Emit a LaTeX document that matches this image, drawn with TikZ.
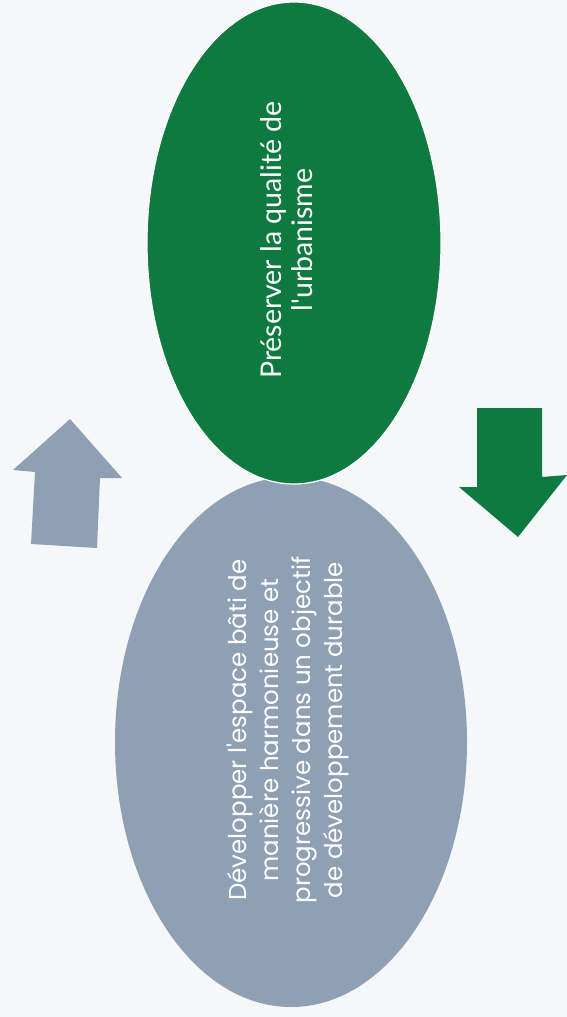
\documentclass[tikz,border=0pt]{standalone}
\usepackage{fontspec}
\usepackage{tikz}
\usetikzlibrary{shapes.geometric}
\newfontfamily\gillish{Lato}
\newfontfamily\futurish{Poppins}
\definecolor{pagebg}{RGB}{246,247,249}
\definecolor{blobgreen}{RGB}{14,122,64}
\definecolor{blobgrey}{RGB}{143,160,180}

\begin{document}
\begin{tikzpicture}[x=1pt,y=-1pt]
        \fill[pagebg] (0,0) rectangle (567,1017);
        \useasboundingbox (0,0) rectangle (567,1017);
        \begin{scope}[every node/.style={ellipse,inner sep=0pt}]
            \node[fill=blobgrey, minimum width=352pt, minimum height=530pt] (batir) at (291,742) {};
            \node[fill=blobgreen, draw=white, line width=1.2pt, minimum width=294pt, minimum height=482pt] (preserver) at (294,243) {};
        \end{scope}
        \begin{scope}[every node/.style={text=white,align=center,rotate=90,inner sep=0pt}]
            \node[font=\gillish\fontsize{28.5}{31}\selectfont] (preserverTxt) at (287,240) {Préserver la qualité de\\l'urbanisme};
            \node[font=\futurish\fontsize{24.5}{32}\selectfont] (batirTxt) at (288,730) {Développer l'espace bâti de\\manière harmonieuse et\\progressive dans un objectif\\de développement durable};
        \end{scope}
        \fill[blobgrey] (70,419) -- (122,478) -- (100,478) -- (97,548) -- (31,544) -- (35,472) -- (13,470) -- cycle;
        \fill[blobgreen] (477,408) -- (542,408) -- (542,477) -- (567,475) -- (518,537) -- (459,487) -- (477,487) -- cycle;
    \end{tikzpicture}
\end{document}
